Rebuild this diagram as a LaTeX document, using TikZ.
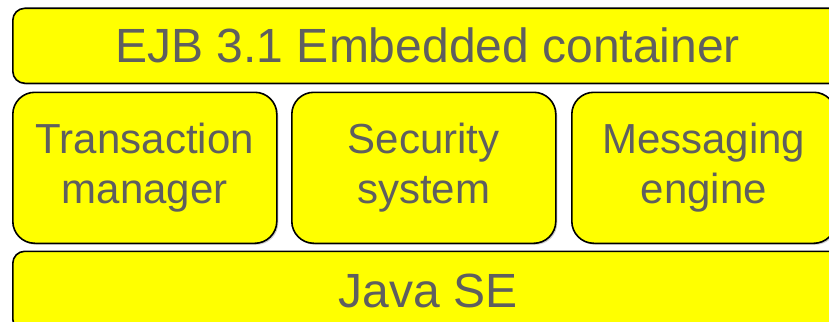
\documentclass[tikz,border=0pt]{standalone}
\usepackage{fontspec}
\setmainfont{Liberation Sans}
\usepackage{tikz}
\usetikzlibrary{shapes, shadows, positioning}
\definecolor{boxyellow}{RGB}{255,255,0}
\definecolor{labelgray}{RGB}{95,95,95}

\begin{document}
\begin{tikzpicture}[x=1pt, y=1pt, line width=1.6pt]
        % Block styles
        \tikzstyle{layer} = [rectangle, draw=black, fill=boxyellow, text=labelgray, inner sep=0pt, drop shadow={shadow xshift=1.5pt, shadow yshift=-1.5pt, fill=black!40}]
        \tikzstyle{wide} = [layer, minimum width=830pt, rounded corners=12pt, font=\fontsize{48}{57}\selectfont]
        \tikzstyle{service} = [layer, minimum width=264pt, minimum height=151pt, rounded corners=22pt, align=center, font=\fontsize{42}{50}\selectfont]

        \path[use as bounding box] (0,0) rectangle (829,-321);

        % Layers
        \node [wide, minimum height=75pt, anchor=north west] (ejb) at (12,-7.5) {EJB 3.1 Embedded container};
        \node [service, below right=7.4pt and 0pt of ejb.south west] (tm) {Transaction\\manager};
        \node [service, right=13.4pt of tm] (sec) {Security\\system};
        \node [service, right=14.4pt of sec] (msg) {Messaging\\engine};
        \node [wide, minimum height=80pt, below right=6.4pt and 0pt of tm.south west] (jse) {Java SE};

    \end{tikzpicture}
\end{document}
